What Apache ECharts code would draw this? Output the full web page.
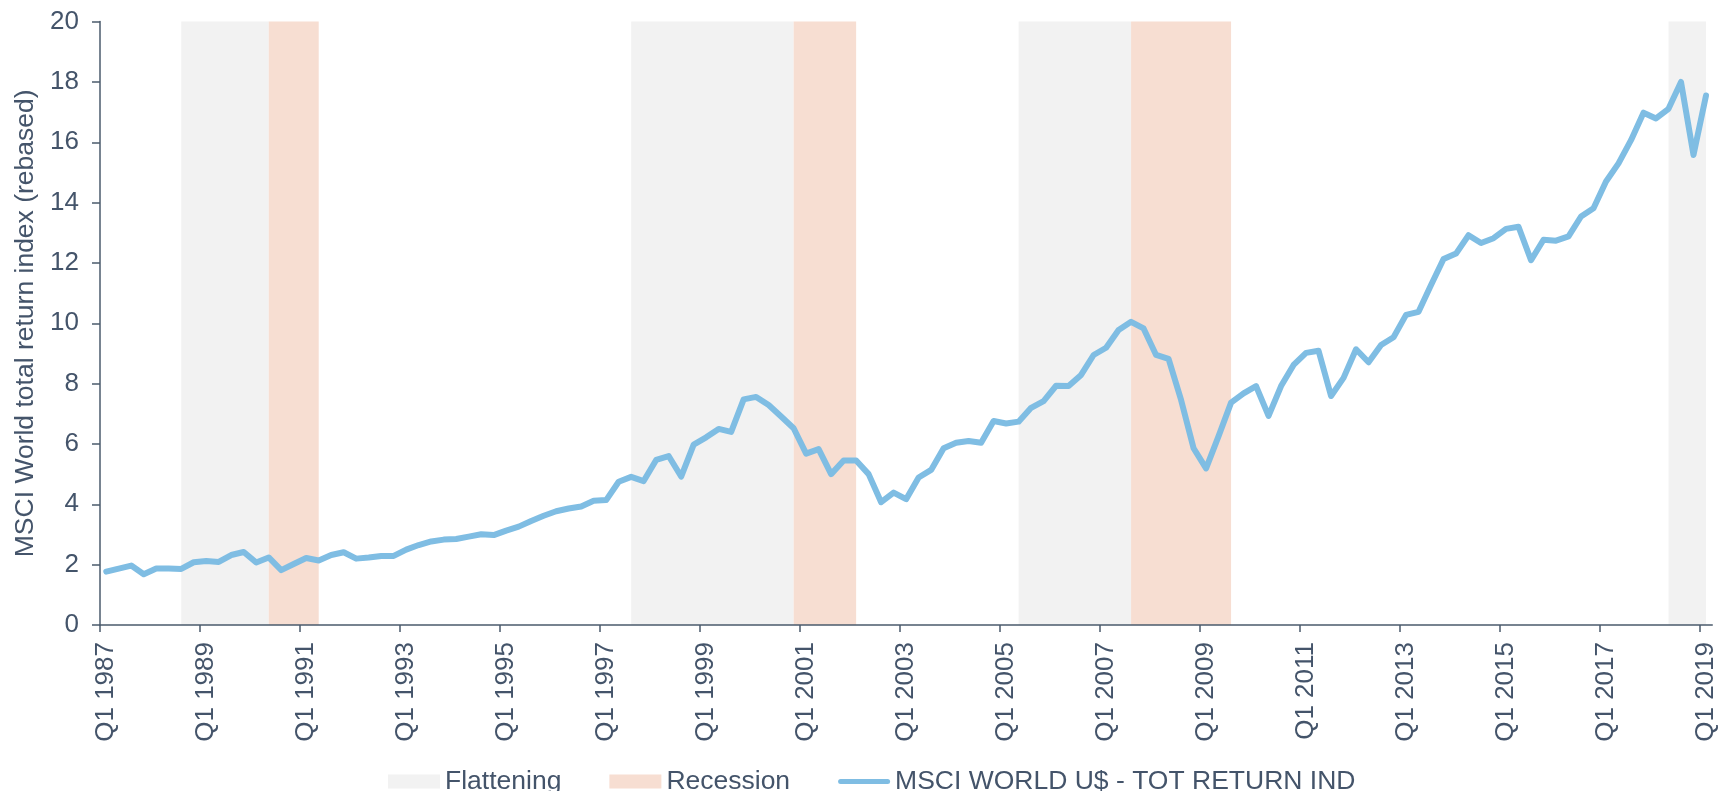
<!DOCTYPE html>
<html>
<head>
<meta charset="utf-8">
<script src="https://cdn.jsdelivr.net/npm/echarts@6/dist/echarts.min.js"></script>
<style>html,body{margin:0;padding:0;background:#fff}#c{width:1719px;height:791px}</style>
</head>
<body>
<div id="c"></div>
<script>
// Quarterly categories Q1 1987 .. Q1 2019
const firstYear = 1987, lastYear = 2019;
const quarters = [];
for (let y = firstYear; y <= lastYear; y++) {
  for (let q = 1; q <= 4; q++) {
    if (y === lastYear && q > 1) break;
    quarters.push('Q' + q + ' ' + y);
  }
}

// MSCI World total return index (rebased), one value per quarter
const msciValues = [
  1.77, 1.87, 1.97, 1.68, 1.87, 1.87, 1.86, 2.08, 2.12, 2.09,
  2.32, 2.42, 2.07, 2.24, 1.82, 2.02, 2.22, 2.14, 2.32, 2.41,
  2.20, 2.24, 2.29, 2.29, 2.50, 2.65, 2.77, 2.83, 2.85, 2.93,
  3.01, 2.98, 3.13, 3.26, 3.45, 3.62, 3.77, 3.86, 3.93, 4.12,
  4.14, 4.75, 4.91, 4.77, 5.47, 5.60, 4.92, 5.98, 6.22, 6.50,
  6.40, 7.48, 7.56, 7.29, 6.91, 6.52, 5.68, 5.83, 5.00, 5.45,
  5.45, 5.00, 4.07, 4.39, 4.17, 4.89, 5.14, 5.86, 6.04, 6.10,
  6.04, 6.76, 6.68, 6.74, 7.20, 7.42, 7.93, 7.92, 8.29, 8.95,
  9.19, 9.78, 10.05, 9.83, 8.95, 8.82, 7.46, 5.86, 5.19, 6.26,
  7.37, 7.68, 7.92, 6.93, 7.92, 8.62, 9.02, 9.09, 7.59, 8.19,
  9.14, 8.71, 9.28, 9.54, 10.28, 10.38, 11.27, 12.13, 12.31, 12.92,
  12.66, 12.82, 13.13, 13.20, 12.09, 12.77, 12.74, 12.88, 13.54, 13.81,
  14.70, 15.30, 16.07, 16.98, 16.79, 17.11, 18.00, 15.58, 17.55
];

// Shaded periods, as [first quarter index, last quarter index]
const flatteningPeriods = [[6, 13], [42, 55], [73, 82], [125, 128]];
const recessionPeriods = [[13, 17], [55, 60], [82, 90]];

// Axis ticks / labels (every 8th quarter)
const xTickIndices = [0, 8, 16, 24, 32, 40, 48, 56, 64, 72, 80, 88, 96, 104, 112, 120, 128];
const yTicks = [0, 2, 4, 6, 8, 10, 12, 14, 16, 18, 20];

const seriesNames = ['Flattening', 'Recession', 'MSCI WORLD U$ - TOT RETURN IND'];
const yAxisTitle = 'MSCI World total return index (rebased)';

const TEXT = '#44546A';
const AXIS = '#4B5B6C';
const LINE = '#7FBDE3';
const FONT = '"Liberation Sans", Arial, sans-serif';

function toAreas(periods) {
  return periods.map(p => [{ xAxis: quarters[p[0]] }, { xAxis: quarters[p[1]] }]);
}

const chart = echarts.init(document.getElementById('c'), null, { renderer: 'canvas' });
chart.setOption({
  animation: false,
  backgroundColor: '#ffffff',
  textStyle: { fontFamily: FONT, color: TEXT },
  grid: { left: 100, top: 21.6, width: 1612.5, height: 603.4, containLabel: false },
  legend: {
    left: 383,
    top: 763,
    itemWidth: 52,
    itemHeight: 14,
    itemGap: 48,
    textStyle: { fontFamily: FONT, fontSize: 26.5, color: TEXT },
    data: [
      { name: seriesNames[0], icon: 'rect' },
      { name: seriesNames[1], icon: 'rect' },
      { name: seriesNames[2], icon: 'path://M2.5,0 L49.5,0 A2.5,2.5 0 0 1 49.5,5 L2.5,5 A2.5,2.5 0 0 1 2.5,0 Z', itemStyle: { color: LINE } }
    ]
  },
  xAxis: [
    {
      type: 'category',
      data: quarters,
      boundaryGap: true,
      z: 5,
      axisLine: { show: true, lineStyle: { color: AXIS, width: 1.5 } },
      axisTick: { show: false },
      axisLabel: { show: false },
      splitLine: { show: false }
    },
    {
      type: 'value',
      min: 0,
      max: quarters.length,
      position: 'bottom',
      offset: 0,
      z: 5,
      axisLine: { show: false },
      axisTick: { show: true, customValues: xTickIndices, length: 7, lineStyle: { color: AXIS, width: 1.5 } },
      axisLabel: {
        show: true,
        customValues: xTickIndices.map(i => i + 0.5),
        formatter: v => quarters[Math.floor(v)],
        rotate: 90,
        margin: 17,
        fontFamily: FONT,
        fontSize: 26,
        color: TEXT
      },
      splitLine: { show: false }
    }
  ],
  yAxis: {
    type: 'value',
    min: yTicks[0],
    max: yTicks[yTicks.length - 1],
    interval: 2,
    z: 5,
    name: yAxisTitle,
    nameLocation: 'middle',
    nameRotate: 90,
    nameGap: 57,
    nameTextStyle: { fontFamily: FONT, fontSize: 26.5, color: TEXT },
    axisLine: { show: true, lineStyle: { color: AXIS, width: 1.5 } },
    axisTick: { show: true, length: 8, lineStyle: { color: AXIS, width: 1.5 } },
    axisLabel: { margin: 21, fontFamily: FONT, fontSize: 26, color: TEXT },
    splitLine: { show: false }
  },
  series: [
    {
      name: seriesNames[0],
      type: 'line',
      data: [],
      itemStyle: { color: '#F2F2F2' },
      lineStyle: { color: '#F2F2F2' },
      z: 1,
      markArea: {
        silent: true,
        itemStyle: { color: '#F2F2F2' },
        data: toAreas(flatteningPeriods)
      }
    },
    {
      name: seriesNames[1],
      type: 'line',
      data: [],
      itemStyle: { color: '#F7DED2' },
      lineStyle: { color: '#F7DED2' },
      z: 1,
      markArea: {
        silent: true,
        itemStyle: { color: '#F7DED2' },
        data: toAreas(recessionPeriods)
      }
    },
    {
      name: seriesNames[2],
      type: 'line',
      data: msciValues,
      xAxisIndex: 0,
      symbol: 'none',
      showSymbol: false,
      z: 3,
      itemStyle: { color: LINE },
      lineStyle: { color: LINE, width: 6, join: 'round', cap: 'round' }
    }
  ]
});
</script>
</body>
</html>
